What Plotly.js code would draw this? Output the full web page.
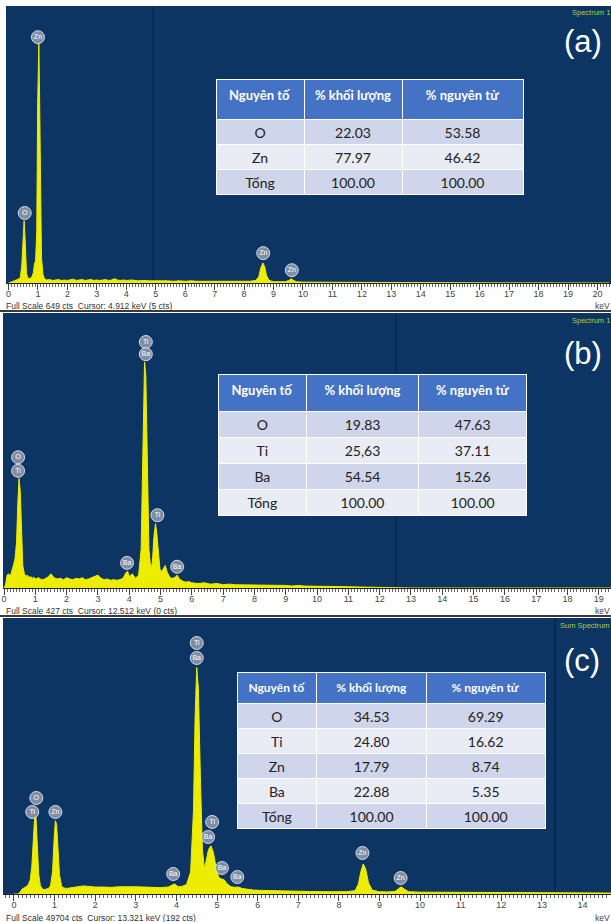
<!DOCTYPE html>
<html><head><meta charset="utf-8">
<script src="https://cdn.plot.ly/plotly-3.0.1.min.js"></script>
<style>html,body{margin:0;padding:0;background:#fff;}#chart{width:611px;height:922px;}</style>
</head><body><div id="chart"></div>
<script>
// ---------- DATA ----------
// Panel (a) spectrum: energy (keV) and counts
const energyA = [0.00,0.10,0.20,0.30,0.40,0.45,0.49,0.53,0.57,0.61,0.66,0.70,0.75,0.80,0.85,0.88,0.92,0.96,0.99,1.01,1.03,1.05,1.08,1.12,1.17,1.22,1.30,1.40,1.50,1.60,1.70,1.80,1.90,2.00,2.10,2.20,2.30,2.40,2.50,2.60,2.70,2.80,2.90,3.00,3.10,3.20,3.30,3.40,3.50,3.60,3.70,3.80,3.90,4.00,4.20,4.40,4.60,4.80,5.00,5.20,5.40,5.60,5.80,6.00,6.20,6.40,6.60,6.80,7.00,7.20,7.40,7.60,7.80,8.00,8.20,8.40,8.50,8.57,8.64,8.70,8.76,8.85,9.00,9.20,9.40,9.52,9.60,9.68,9.78,10.0,10.5,11.0,11.5,12.0,13.0,14.0,16.0,20.4];
const countsA = [0,2,5,8,12,40,105,146,95,22,12,10,12,15,25,45,52,120,420,540,560,470,200,60,20,10,7,8,6,7,8,6,7,6,7,9,6,7,8,6,7,8,6,7,6,7,8,6,7,10,7,6,7,6,7,5,6,5,5,6,5,4,5,4,5,4,4,3,4,3,4,3,3,3,4,6,15,36,47,38,18,6,3,3,3,6,10,6,3,2,2,2,1,1,1,0.5,0.3,0];
const peakLabelA_E = [1.00, 0.55, 8.65, 9.62];
const peakLabelA_C = [576, 164, 70, 30];
const peakLabelA_T = ["Zn","O","Zn","Zn"];

// Panel (b) spectrum
const energyB = [0.00,0.05,0.10,0.15,0.20,0.25,0.30,0.35,0.40,0.44,0.48,0.52,0.56,0.60,0.65,0.70,0.75,0.80,0.85,0.90,0.95,1.00,1.10,1.20,1.30,1.40,1.50,1.60,1.70,1.80,1.90,2.00,2.10,2.20,2.30,2.40,2.50,2.60,2.70,2.80,2.90,3.00,3.10,3.20,3.30,3.40,3.50,3.60,3.70,3.80,3.90,3.95,4.00,4.10,4.20,4.30,4.38,4.44,4.49,4.53,4.57,4.63,4.69,4.74,4.79,4.84,4.88,4.93,4.98,5.03,5.09,5.15,5.21,5.28,5.35,5.45,5.53,5.60,5.70,5.80,5.90,6.00,6.20,6.40,6.60,6.80,7.00,7.20,7.40,7.60,7.80,8.00,8.20,8.40,8.60,8.80,9.00,9.20,9.40,9.60,9.80,10.0,10.2,10.4,10.6,10.8,11.0,11.4,11.8,12.2,12.6,13.0,19.4];
const countsB = [0,5,20,22,18,25,35,45,70,130,170,150,80,35,22,18,20,16,18,15,17,14,16,13,14,17,22,16,14,15,13,16,14,13,15,14,16,13,14,16,17,20,15,13,14,12,13,12,13,15,24,26,18,22,15,20,60,250,351,330,200,60,30,40,80,100,85,50,30,25,30,35,25,18,15,16,20,14,11,9,10,8,7,8,6,7,5,6,5,5,4,5,4,5,4,4,4,3,4,3,3,3,2,3,2,2,2,1.5,1,1,0.5,0,0];
const peakLabelB_E = [4.53, 4.53, 0.45, 0.45, 4.90, 3.93, 5.53];
const peakLabelB_C = [382, 363, 203, 182, 113, 39, 33];
const peakLabelB_T = ["Ti","Ba","O","Ti","Ti","Ba","Ba"];

// Panel (c) spectrum
const energyC = [0.00,0.10,0.15,0.20,0.25,0.30,0.35,0.40,0.44,0.48,0.51,0.54,0.57,0.61,0.65,0.70,0.75,0.80,0.85,0.90,0.95,0.99,1.02,1.05,1.08,1.12,1.17,1.22,1.30,1.40,1.50,1.60,1.70,1.80,1.90,2.00,2.20,2.40,2.60,2.80,3.00,3.20,3.40,3.60,3.80,3.95,4.05,4.15,4.25,4.35,4.42,4.46,4.50,4.54,4.59,4.64,4.69,4.74,4.79,4.85,4.91,4.97,5.04,5.11,5.17,5.24,5.34,5.44,5.52,5.62,5.75,5.90,6.10,6.30,6.50,6.80,7.00,7.30,7.60,7.90,8.20,8.40,8.48,8.54,8.60,8.66,8.73,8.82,9.00,9.20,9.38,9.46,9.53,9.61,9.72,10.0,10.5,11.0,11.5,12.0,12.5,13.0,13.5,14.0,14.7];
const countsC = [0,0,300,900,1100,1300,1700,2500,5000,10000,14000,14000,9000,3500,1500,900,800,900,1000,1500,4000,10000,13200,12500,8000,3500,1500,1100,1000,1100,1200,1300,1450,1400,1300,1250,1250,1200,1300,1350,1300,1250,1200,1150,1250,1800,1300,1400,1700,4000,15000,32000,40800,37000,21000,8000,4500,6000,8000,8670,7500,5000,3000,2700,2600,1900,1300,1200,1260,1000,800,700,650,600,550,500,480,450,420,400,420,600,1800,4000,5400,4500,2000,700,400,380,450,900,1300,900,400,330,300,290,270,250,240,220,200,190,170];
const peakLabelC_E = [4.50, 4.50, 0.55, 0.45, 1.02, 4.88, 4.78, 5.12, 5.50, 3.92, 8.58, 9.52];
const peakLabelC_C = [45200, 42500, 17290, 14770, 14770, 12970, 10270, 4680, 3060, 3600, 7380, 2880];
const peakLabelC_T = ["Ti","Ba","O","Ti","Zn","Ti","Ba","Ba","Ba","Ba","Zn","Zn"];

// Full scale (counts), cursor positions
const fullScale = [649, 427, 49704];
const cursorKeV = [4.912, 12.512, 13.321];
const cursorCts = [5, 0, 192];
const spectrumNames = ["Spectrum 1", "Spectrum 1", "Sum Spectrum"];
const panelTags = ["(a)", "(b)", "(c)"];

// Tables
const tableHeader = ["Nguyên tố", "% khối lượng", "% nguyên tử"];
const tableA_elem = ["O", "Zn", "Tổng"];
const tableA_mass = ["22.03", "77.97", "100.00"];
const tableA_atom = ["53.58", "46.42", "100.00"];
const tableB_elem = ["O", "Ti", "Ba", "Tổng"];
const tableB_mass = ["19.83", "25,63", "54.54", "100.00"];
const tableB_atom = ["47.63", "37.11", "15.26", "100.00"];
const tableC_elem = ["O", "Ti", "Zn", "Ba", "Tổng"];
const tableC_mass = ["34.53", "24.80", "17.79", "22.88", "100.00"];
const tableC_atom = ["69.29", "16.62", "8.74", "5.35", "100.00"];

// ---------- LAYOUT HELPERS ----------
const W = 611, H = 922;
const px = v => v / W;
const py = v => 1 - v / H;
const BG = '#0c3564';
const YEL = '#eeec00';
const FONT = 'Liberation Sans, Arial, sans-serif';
const TFONT = 'Lato, Open Sans, sans-serif';

function spectrum(x, y, xa, ya) {
  return {type:'scatter', mode:'lines', x:x, y:y, xaxis:xa, yaxis:ya,
    line:{color:YEL, width:1}, fill:'tozeroy', fillcolor:YEL, hoverinfo:'skip'};
}
function labels(x, y, t, xa, ya) {
  return {type:'scatter', mode:'markers+text', x:x, y:y, text:t, xaxis:xa, yaxis:ya,
    textposition:'middle center', cliponaxis:false,
    marker:{size:13, color:'rgba(140,152,172,0.9)', line:{color:'rgba(225,230,240,0.9)', width:1}},
    textfont:{size:7, color:'#ffffff', family:FONT}, hoverinfo:'skip'};
}
function rowFills(n) {
  const c = [];
  for (let i = 0; i < n; i++) c.push(i % 2 === 0 ? '#cfd5ea' : '#e9ebf5');
  return c;
}
function table(cols, domX, domY, colW, hh, ch, hsize) {
  const n = cols[0].length;
  const f = rowFills(n);
  return {type:'table', domain:{x:domX, y:domY}, columnwidth:colW,
    header:{values:tableHeader.map(s => '<b>' + s + '</b>'), align:'center', height:hh,
      fill:{color:'#4472c4'}, line:{color:'#ffffff', width:1},
      font:{family:TFONT, size:hsize, color:'#ffffff'}},
    cells:{values:cols, align:'center', height:ch,
      fill:{color:[f, f, f]}, line:{color:'#ffffff', width:1},
      font:{family:TFONT, size:14, color:'#222222'}}};
}

const data = [
  spectrum(energyA, countsA, 'x', 'y'),
  spectrum(energyB, countsB, 'x2', 'y2'),
  spectrum(energyC, countsC, 'x3', 'y3'),
  labels(peakLabelA_E, peakLabelA_C, peakLabelA_T, 'x', 'y'),
  labels(peakLabelB_E, peakLabelB_C, peakLabelB_T, 'x2', 'y2'),
  labels(peakLabelC_E, peakLabelC_C, peakLabelC_T, 'x3', 'y3'),
  table([tableA_elem, tableA_mass, tableA_atom], [px(216), px(523)], [py(210), py(79)], [88, 98, 121], 40, 25, 13),
  table([tableB_elem, tableB_mass, tableB_atom], [px(218), px(528)], [py(530), py(374)], [89, 112, 109], 37, 26, 13),
  table([tableC_elem, tableC_mass, tableC_atom], [px(237), px(546)], [py(845), py(672)], [80, 110, 119], 30, 25, 12)
];

function xaxis(dom, range, anchor) {
  return {domain:dom, range:range, anchor:anchor, showgrid:false, zeroline:false,
    showline:true, linecolor:'#222', linewidth:1, mirror:false,
    ticks:'outside', ticklen:6, tickwidth:1, tickcolor:'#444', dtick:1, tick0:0,
    minor:{dtick:0.1, tick0:0, ticklen:3, tickcolor:'#666', tickwidth:1, ticks:'outside'},
    tickfont:{family:FONT, size:9, color:'#444'}, ticklabelstandoff:-4, fixedrange:true};
}
function yaxis(dom, fs, anchor) {
  return {domain:dom, range:[0, fs], anchor:anchor, visible:false, fixedrange:true};
}

const panelTops = [6, 313, 618];
const textRows = [306, 611, 918];

const annotations = [];
for (let i = 0; i < 3; i++) {
  annotations.push({xref:'paper', yref:'paper', x:px(4), y:py(textRows[i]), xanchor:'left', yanchor:'middle',
    text:'Full Scale ' + fullScale[i] + ' cts  Cursor: ' + cursorKeV[i].toFixed(3) + ' keV (' + cursorCts[i] + ' cts)',
    showarrow:false, font:{family:FONT, size:8.5, color:'#333'}});
  annotations.push({xref:'paper', yref:'paper', x:px(612), y:py(textRows[i]), xanchor:'right', yanchor:'middle',
    text:'keV', showarrow:false, font:{family:FONT, size:8.5, color:'#444'}});
  annotations.push({xref:'paper', yref:'paper', x:px(612), y:py(panelTops[i] + 7), xanchor:'right', yanchor:'middle',
    text:spectrumNames[i], showarrow:false, font:{family:FONT, size:7.5, color:'#a6d23a'}});
}
const tagPos = [[583, 42], [583, 353], [582, 660]];
panelTags.forEach((t, i) => annotations.push({xref:'paper', yref:'paper', x:px(tagPos[i][0]), y:py(tagPos[i][1]),
  xanchor:'center', yanchor:'middle', text:t, showarrow:false, font:{family:FONT, size:31, color:'#ffffff'}}));

const shapes = [];
['x', 'x2', 'x3'].forEach((xa, i) => shapes.push({type:'line', xref:xa, yref:(i === 0 ? 'y' : 'y' + (i + 1)) + ' domain',
  x0:cursorKeV[i], x1:cursorKeV[i], y0:0, y1:1, line:{color:'#062041', width:1}, layer:'below'}));
shapes.push({type:'line', xref:'paper', yref:'paper', x0:0, x1:1, y0:py(311), y1:py(311), line:{color:'#3a3a3a', width:2}});
shapes.push({type:'line', xref:'paper', yref:'paper', x0:0, x1:1, y0:py(616), y1:py(616), line:{color:'#3a3a3a', width:2}});

const layout = {
  width:W, height:H, margin:{l:0, r:0, t:0, b:0}, paper_bgcolor:'#ffffff', plot_bgcolor:BG,
  showlegend:false, hovermode:false,
  xaxis:xaxis([px(6), 1], [-0.085, 20.46], 'y'),
  yaxis:yaxis([py(283), py(6)], fullScale[0], 'x'),
  xaxis2:xaxis([px(3), 1], [-0.032, 19.39], 'y2'),
  yaxis2:yaxis([py(588), py(313)], fullScale[1], 'x2'),
  xaxis3:xaxis([px(3), 1], [-0.27, 14.70], 'y3'),
  yaxis3:yaxis([py(894), py(618)], fullScale[2], 'x3'),
  annotations:annotations, shapes:shapes
};

Plotly.newPlot('chart', data, layout, {staticPlot:true, displayModeBar:false});
</script>
</body></html>
